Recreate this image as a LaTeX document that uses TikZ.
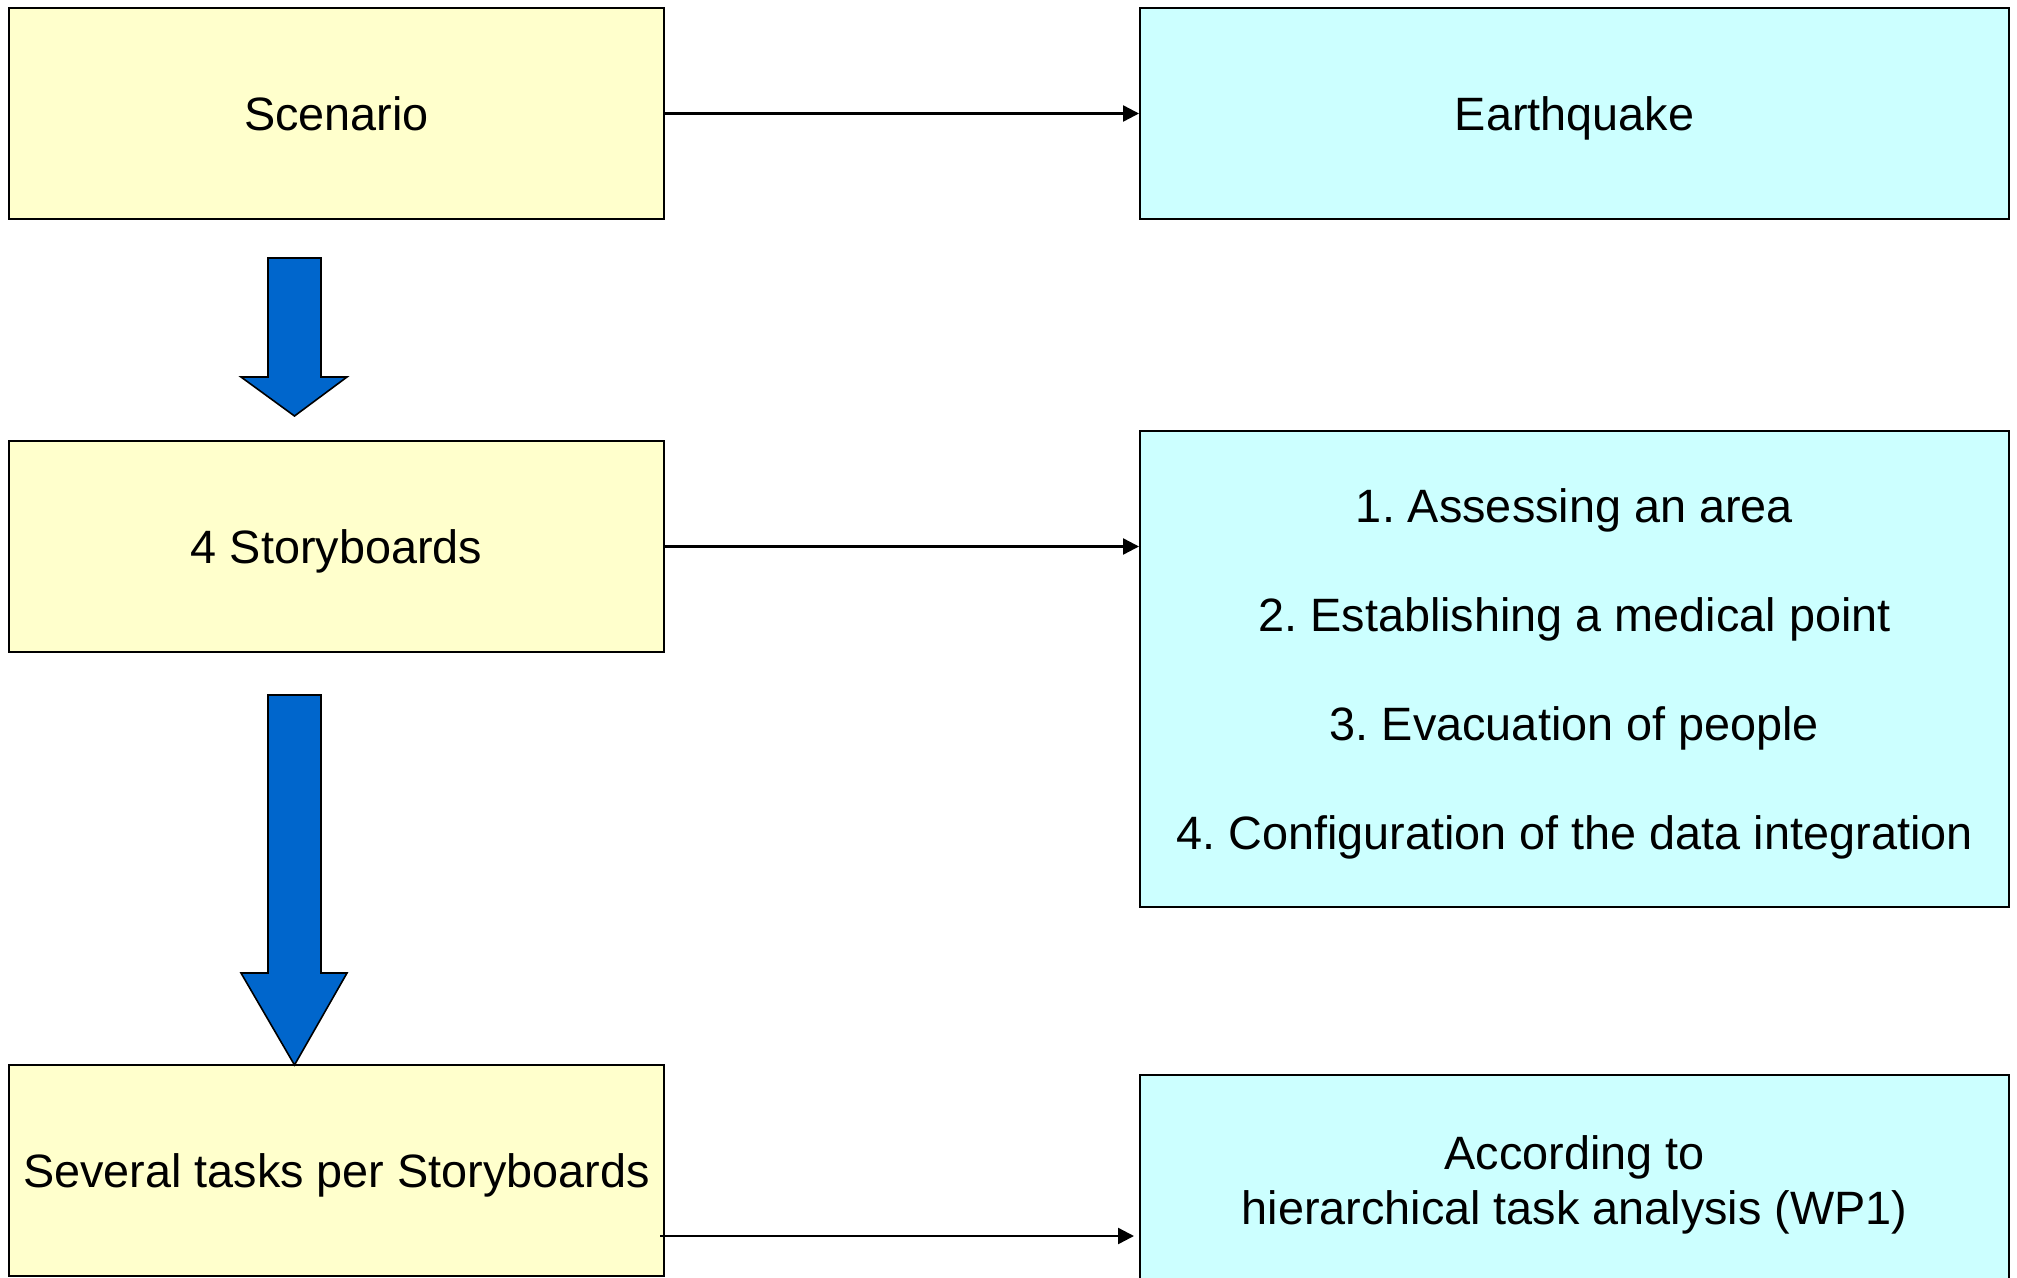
\documentclass[tikz,border=0pt]{standalone}
\usepackage{fontspec}
\setmainfont{Liberation Sans}
\usetikzlibrary{arrows.meta,calc}

\definecolor{paleyellow}{HTML}{FFFFCC}
\definecolor{palecyan}{HTML}{CCFFFF}
\definecolor{flowblue}{HTML}{0066CC}

\tikzset{
  box/.style={draw=black, line width=1pt, inner sep=0pt, align=center,
    font=\fontsize{23.4}{28}\selectfont\frenchspacing},
  leftbox/.style={box, fill=paleyellow, minimum width=327.5pt, minimum height=105.5pt,
    text depth=0pt},
  rightbox/.style={box, fill=palecyan, minimum width=434.5pt},
  link/.style={line width=1.2pt, -{Triangle[length=8pt,width=8pt]}},
  bigarrow/.style={fill=flowblue, draw=black, line width=0.8pt, line join=miter}
}

\begin{document}
\begin{tikzpicture}[x=0.5pt, y=-0.5pt]
  \useasboundingbox (0,0) rectangle (2017,1278);
  \clip (0,0) rectangle (2017,1278);

  % left column
  \node[leftbox] (scen)  at (336.5,113.5)  {Scenario};
  \node[leftbox] (story) at (336.5,546.5)  {4 Storyboards};
  \node[leftbox] (tasks) at (336.5,1170.5) {Several tasks per Storyboards};

  % right column
  \node[rightbox, minimum height=105.5pt, text depth=0pt] (eq) at (1574.5,113.5) {Earthquake};
  \node[rightbox, minimum height=238pt, text depth=0pt,
        font=\fontsize{23.4}{54.5}\selectfont\frenchspacing] (list) at (1574.5,669)
    {1. Assessing an area\\2. Establishing a medical point\\3. Evacuation of people\\4. Configuration of the data integration};
  \node[rightbox, minimum height=110pt] (hta) at (1574.5,1185)
    {According to\\[-0.3pt]hierarchical task analysis (WP1)};

  % horizontal connectors
  \draw[link] (scen.east) -- (eq.west);
  \draw[link] (story.east) -- (story.east -| list.west);
  \coordinate (t3) at ([shift={(-2.5pt,-32.75pt)}]tasks.east);
  \draw[link, shorten >=2.5pt] (t3) -- (t3 -| hta.west);

  % block arrows between the stages
  \draw[bigarrow] (268,258) -- (321,258) -- (321,377) -- (347,377) -- (294.5,416)
    -- (241,377) -- (268,377) -- cycle;
  \draw[bigarrow] (268,695) -- (321,695) -- (321,973) -- (347,973) -- (294.5,1065)
    -- (241,973) -- (268,973) -- cycle;
\end{tikzpicture}
\end{document}
